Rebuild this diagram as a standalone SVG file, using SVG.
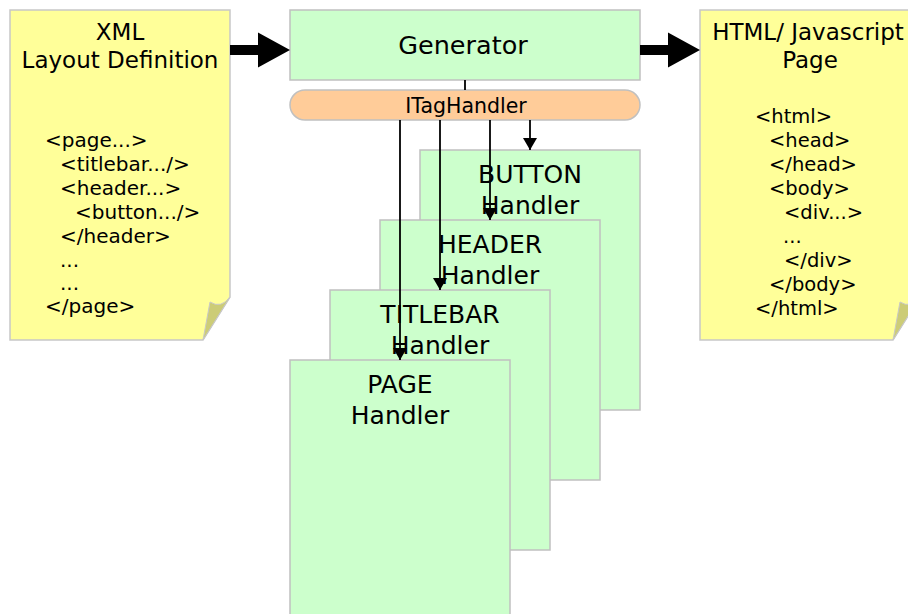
<svg xmlns="http://www.w3.org/2000/svg" width="908" height="614" viewBox="0 0 908 614">
  <style>
    text { font-family: "DejaVu Sans", Verdana, sans-serif; fill: #000; }
    .doc { fill: #ffff99; stroke: #c8c8c8; stroke-width: 1.5; }
    .fold { fill: #cccc77; stroke: #c8c8c8; stroke-width: 1; }
    .box { fill: #ccffcc; stroke: #c0c0c0; stroke-width: 1.5; }
    .pill { fill: #ffcc99; stroke: #c0c0c0; stroke-width: 1.5; }
    .title { font-size: 23px; text-anchor: middle; }
    .code { font-size: 20px; }
    .code2 { font-size: 19.5px; }
    .hdl { font-size: 25px; text-anchor: middle; }
    .conn { stroke: #000; stroke-width: 1.8; fill: none; }
    .thick { fill: #000; stroke: none; }
  </style>
  <defs>
    <marker id="ah" viewBox="0 0 12 14" refX="12" refY="7" markerWidth="12" markerHeight="14" markerUnits="userSpaceOnUse" orient="auto">
      <path d="M0,0 L12,7 L0,14 Z" fill="#000"/>
    </marker>
  </defs>

  <g id="xml-doc">
    <path class="doc" d="M10,10 H230 V297 L203,340 H10 Z"/>
    <path class="fold" d="M230,297 Q221,309 210,302 L203,340 Z"/>
    <text class="title" x="120" y="40">XML</text>
    <text class="title" x="120" y="68">Layout Definition</text>
    <text class="code" x="45" y="147">&lt;page...&gt;</text>
    <text class="code" x="60" y="171">&lt;titlebar.../&gt;</text>
    <text class="code" x="60" y="195">&lt;header...&gt;</text>
    <text class="code" x="75" y="219">&lt;button.../&gt;</text>
    <text class="code" x="60" y="243">&lt;/header&gt;</text>
    <text class="code" x="60" y="267">...</text>
    <text class="code" x="60" y="290">...</text>
    <text class="code" x="45" y="313">&lt;/page&gt;</text>
  </g>

  <g id="html-doc">
    <path class="doc" d="M700,10 H920 V297 L893,340 H700 Z"/>
    <path class="fold" d="M920,297 Q911,309 900,302 L893,340 Z"/>
    <text class="title" x="808" y="40">HTML/ Javascript</text>
    <text class="title" x="810" y="68">Page</text>
    <text class="code2" x="755" y="123">&lt;html&gt;</text>
    <text class="code2" x="769" y="147">&lt;head&gt;</text>
    <text class="code2" x="769" y="171">&lt;/head&gt;</text>
    <text class="code2" x="769" y="195">&lt;body&gt;</text>
    <text class="code2" x="784" y="219">&lt;div...&gt;</text>
    <text class="code2" x="783" y="243">...</text>
    <text class="code2" x="784" y="267">&lt;/div&gt;</text>
    <text class="code2" x="769" y="291">&lt;/body&gt;</text>
    <text class="code2" x="755" y="315">&lt;/html&gt;</text>
  </g>

  <g id="generator">
    <rect class="box" x="290" y="10" width="350" height="70"/>
    <text x="463" y="53.5" font-size="25.5" text-anchor="middle">Generator</text>
  </g>

  <g id="itaghandler">
    <rect class="pill" x="290" y="90" width="350" height="30" rx="15" ry="15"/>
    <text x="466" y="113" font-size="20.5" text-anchor="middle">ITagHandler</text>
  </g>

  <g id="button-handler">
    <rect class="box" x="420" y="150" width="220" height="260"/>
    <text class="hdl" x="530" y="183">BUTTON</text>
    <text class="hdl" x="530" y="214">Handler</text>
  </g>

  <g id="header-handler">
    <rect class="box" x="380" y="220" width="220" height="260"/>
    <text class="hdl" x="490" y="253">HEADER</text>
    <text class="hdl" x="490" y="284">Handler</text>
  </g>

  <g id="titlebar-handler">
    <rect class="box" x="330" y="290" width="220" height="260"/>
    <text class="hdl" x="440" y="323">TITLEBAR</text>
    <text class="hdl" x="440" y="354">Handler</text>
  </g>

  <g id="page-handler">
    <rect class="box" x="290" y="360" width="220" height="270"/>
    <text class="hdl" x="400" y="393">PAGE</text>
    <text class="hdl" x="400" y="424">Handler</text>
  </g>

  <g id="connectors">
    <path class="thick" d="M230,45 H258 V32.5 L290,50 L258,67.5 V55 H230 Z"/>
    <path class="thick" d="M640,45 H668 V32.5 L700,50 L668,67.5 V55 H640 Z"/>
    <line class="conn" x1="465" y1="80" x2="465" y2="90" stroke-width="2"/>
    <line class="conn" x1="400" y1="120" x2="400" y2="360" marker-end="url(#ah)"/>
    <line class="conn" x1="440" y1="120" x2="440" y2="290" marker-end="url(#ah)"/>
    <line class="conn" x1="490" y1="120" x2="490" y2="220" marker-end="url(#ah)"/>
    <line class="conn" x1="530" y1="120" x2="530" y2="150" marker-end="url(#ah)"/>
  </g>
</svg>
